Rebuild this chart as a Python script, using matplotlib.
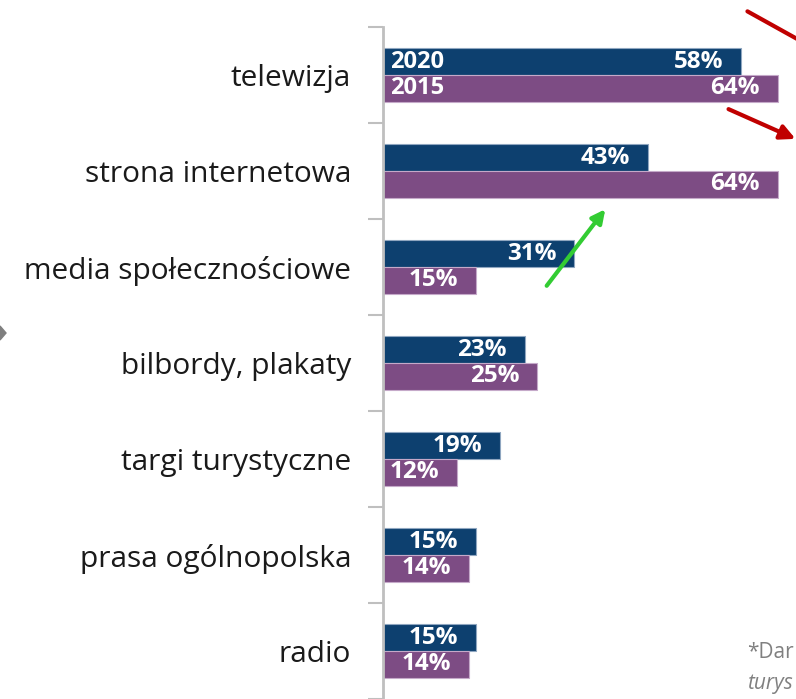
import matplotlib.pyplot as plt
import numpy as np
from matplotlib.patches import Polygon

categories = ['telewizja', 'strona internetowa', 'media społecznościowe',
              'bilbordy, plakaty', 'targi turystyczne', 'prasa ogólnopolska', 'radio']
values_2020 = [58, 43, 31, 23, 19, 15, 15]
values_2015 = [64, 64, 15, 25, 12, 14, 14]
series_names = ['2020', '2015']

blue = '#0D406F'
purple = '#7D4C84'

plt.rcParams['font.family'] = ['Open Sans', 'DejaVu Sans']

fig = plt.figure(figsize=(7.96, 6.99), dpi=100)
ax = fig.add_axes([383 / 796, 0, 413 / 796, 672 / 699])

y = np.arange(len(categories))
h = 0.28
ax.barh(y - h / 2, values_2020, height=h, color=blue, edgecolor='#8FA6C0', linewidth=0.8)
ax.barh(y + h / 2, values_2015, height=h, color=purple, edgecolor='#C5A9C9', linewidth=0.8)

ax.set_xlim(0, 413 / 6.17)
ax.set_ylim(6.5, -0.5)

for i in range(len(categories)):
    ax.text(values_2020[i] - 2.9, y[i] - h / 2, f'{values_2020[i]}%', color='white',
            fontsize=17.5, fontweight='bold', ha='right', va='center')
    ax.text(values_2015[i] - 2.9, y[i] + h / 2, f'{values_2015[i]}%', color='white',
            fontsize=17.5, fontweight='bold', ha='right', va='center')

# series names inside the first bars
ax.text(1.2, y[0] - h / 2, series_names[0], color='white', fontsize=17,
        fontweight='bold', ha='left', va='center')
ax.text(1.2, y[0] + h / 2, series_names[1], color='white', fontsize=17,
        fontweight='bold', ha='left', va='center')

ax.set_yticks(y)
ax.set_yticklabels(categories, fontsize=21.5, color='#1a1a1a')
ax.set_yticks(np.arange(-0.5, 7.0, 1.0), minor=True)
ax.tick_params(axis='y', which='major', length=0, pad=23)
ax.tick_params(axis='y', which='minor', length=11, color='#BFBFBF', width=1.5)
ax.set_xticks([])
for s in ['top', 'right', 'bottom']:
    ax.spines[s].set_visible(False)
ax.spines['left'].set_color('#BFBFBF')
ax.spines['left'].set_linewidth(2)


def px(xp, yp):
    return (xp / 796, 1 - yp / 699)


# annotation arrows
ax.annotate('', xy=px(835, 60), xytext=px(745, 10), xycoords='figure fraction',
            textcoords='figure fraction',
            arrowprops=dict(arrowstyle='-|>', color='#C00000', lw=3, mutation_scale=22))
ax.annotate('', xy=px(798, 140), xytext=px(726, 108), xycoords='figure fraction',
            textcoords='figure fraction',
            arrowprops=dict(arrowstyle='-|>', color='#C00000', lw=3, mutation_scale=22))
ax.annotate('', xy=px(607, 207), xytext=px(545, 288), xycoords='figure fraction',
            textcoords='figure fraction',
            arrowprops=dict(arrowstyle='-|>', color='#33CC33', lw=3, mutation_scale=20))

fig.patches.append(Polygon([px(0, 326), px(6, 333), px(0, 340)], closed=True,
                           transform=fig.transFigure, color='#7F7F7F'))

# footnote, cut by the right edge as in the source slide
fig.text(747 / 796, 1 - 652 / 699, '*Dar', fontsize=15, color='#808080', va='center')
fig.text(747 / 796, 1 - 684 / 699, 'turys', fontsize=15, color='#808080',
         style='italic', va='center')

fig.savefig('out.png', dpi=100)
